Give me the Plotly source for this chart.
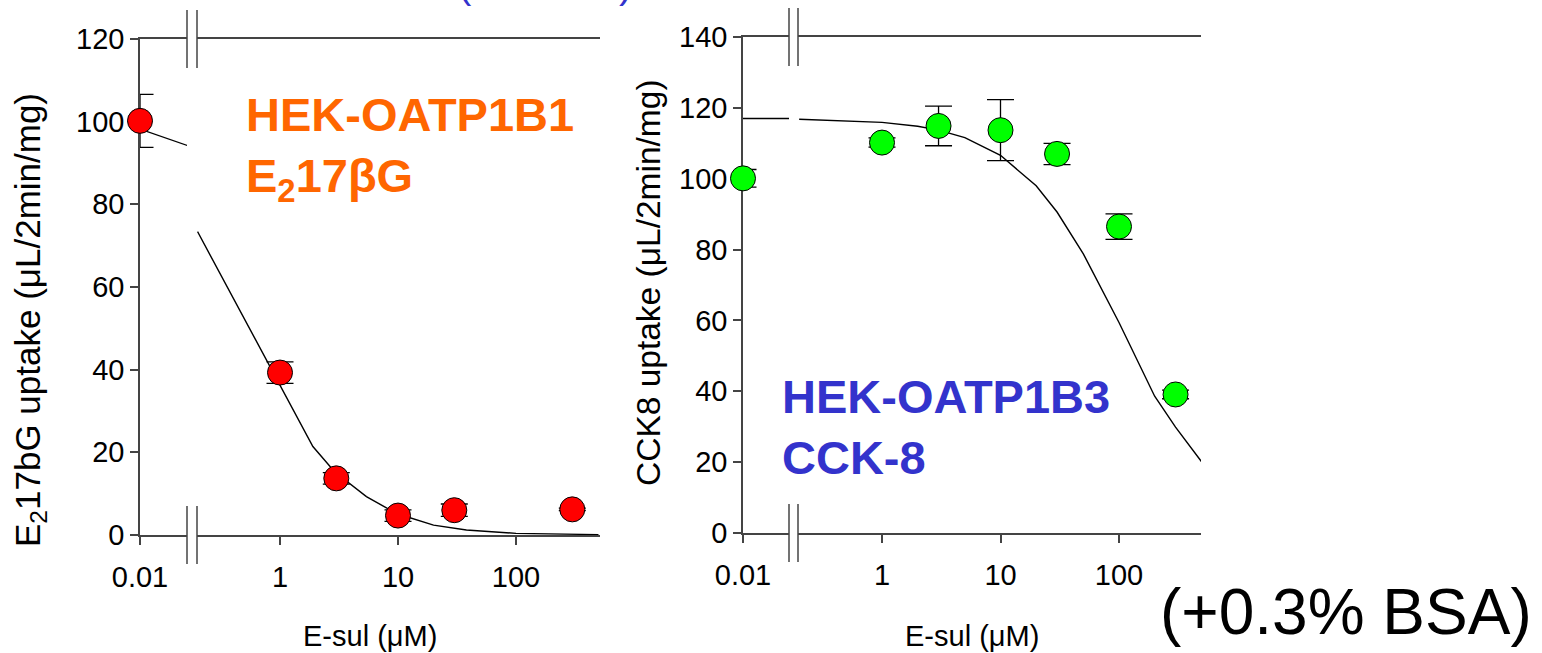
import plotly.graph_objects as go

# ---------------- data ----------------
left_x = [0.01, 1, 3, 10, 30, 300]
left_y = [100.2, 39.3, 13.7, 4.7, 6.0, 6.2]
left_err = [6.4, 2.6, 1.4, 1.4, 1.5, 0.3]
left_fit_x = [0.01, 0.026, 0.2, 0.557, 1, 1.9, 2.9, 5.4, 9.7, 20, 38, 100, 500]
left_fit_y = [98.2, 94.1, 73.4, 49.6, 36.3, 21.4, 15.3, 9.3, 5.2, 2.4, 1.2, 0.4, 0.1]

right_x = [0.01, 1, 3, 10, 30, 100, 300]
right_y = [100.1, 110.2, 114.9, 113.7, 107.0, 86.5, 39.1]
right_err = [2.5, 1.3, 5.6, 8.6, 3.0, 3.6, 1.2]
right_fit_x = [0.01, 0.026, 0.2, 0.5, 1, 2, 3, 5, 10, 20, 30, 50, 100, 200, 300, 500]
right_fit_y = [117.0, 117.0, 116.8, 116.4, 115.9, 114.8, 113.7, 111.6, 106.6, 98.0,
               90.6, 78.8, 59.4, 38.6, 29.9, 20.0]

x_ticks_a = [0.01]
x_ticks_b = [1, 10, 100]
left_yticks = [0, 20, 40, 60, 80, 100, 120]
right_yticks = [0, 20, 40, 60, 80, 100, 120, 140]

x_title = "E-sul (μM)"
left_ytitle = "E<sub>2</sub>17bG uptake (μL/2min/mg)"
right_ytitle = "CCK8 uptake (μL/2min/mg)"
left_label = "HEK-OATP1B1<br>E<sub>2</sub>17βG"
right_label = "HEK-OATP1B3<br>CCK-8"
bsa_label = "(+0.3% BSA)"

# ---------------- layout geometry (pixels) ----------------
W, H = 1542, 653
FONT = "Arial, Liberation Sans, sans-serif"
AX = "#444444"
BREAK_VAL = 0.05
TICKFONT = dict(size=29, family=FONT, color="black")


def fx(p):
    return p / W


def fy(p):
    return 1 - p / H


panels = [
    dict(x0=140, brkA=187, brkB=197, x1=600, ytop=39, ybot=535, one=280, dec=118.0,
         ymax=120, yticks=left_yticks, xs=left_x, ys=left_y, es=left_err,
         fx_=left_fit_x, fy_=left_fit_y, color="#FF0000",
         ytitle=left_ytitle, ytx=30, yty=320, ytsize=35,
         label=left_label, lcol="#FF6600", lx=244, ly=86),
    dict(x0=743, brkA=789, brkB=798, x1=1201, ytop=37, ybot=533, one=882, dec=118.5,
         ymax=140, yticks=right_yticks, xs=right_x, ys=right_y, es=right_err,
         fx_=right_fit_x, fy_=right_fit_y, color="#00FF00",
         ytitle=right_ytitle, ytx=648, yty=283, ytsize=33.5,
         label=right_label, lcol="#3333CC", lx=780, ly=368),
]

fig = go.Figure()
layout = dict(template="none", width=W, height=H, margin=dict(l=0, r=0, t=0, b=0, pad=0),
              autosize=False,
              paper_bgcolor="white", plot_bgcolor="white", showlegend=False,
              font=dict(family=FONT, color="black"))
shapes = []
annotations = []

common_x = dict(type="log", showgrid=False, zeroline=False, showline=True, mirror=True,
                linecolor=AX, linewidth=1.5, ticks="outside", ticklen=8, tickwidth=1.5,
                tickcolor=AX, tickfont=TICKFONT, automargin=False, ticklabelstandoff=7,
                layer="below traces", fixedrange=True)

for i, p in enumerate(panels):
    xa = f"x{2*i+1 if i else ''}"
    xb = f"x{2*i+2}"
    ya = f"y{2*i+1 if i else ''}"
    xa_key = "xaxis" + (str(2 * i + 1) if i else "")
    xb_key = "xaxis" + str(2 * i + 2)
    ya_key = "yaxis" + (str(2 * i + 1) if i else "")
    yb_key = "yaxis" + str(2 * i + 2)

    ydom = [fy(p["ybot"]), fy(p["ytop"])]
    layout[xa_key] = dict(common_x, domain=[fx(p["x0"]), fx(p["brkA"])],
                          range=[-2, -2 + (p["brkA"] - p["x0"]) / p["dec"]],
                          tickvals=x_ticks_a, ticktext=[str(v) for v in x_ticks_a],
                          anchor=ya)
    layout[xb_key] = dict(common_x, domain=[fx(p["brkB"]), fx(p["x1"])],
                          range=[(p["brkB"] - p["one"]) / p["dec"],
                                 (p["x1"] - p["one"]) / p["dec"]],
                          tickvals=x_ticks_b, ticktext=[str(v) for v in x_ticks_b],
                          anchor=ya)
    layout[ya_key] = dict(domain=ydom, range=[0, p["ymax"]], tickvals=p["yticks"],
                          showgrid=False, zeroline=False, showline=True,
                          linecolor=AX, linewidth=1.5, ticks="outside", ticklen=8,
                          tickwidth=1.5, tickcolor=AX, anchor=xa, automargin=False,
                          tickfont=TICKFONT, layer="below traces", fixedrange=True)
    layout[yb_key] = dict(overlaying=ya, range=[0, p["ymax"]], side="right", anchor=xb,
                          showgrid=False, zeroline=False, showline=True, linecolor=AX,
                          linewidth=1.5, ticks="", showticklabels=False, automargin=False,
                          layer="below traces", fixedrange=True)

    # fitted curve, split across the axis break
    for seg_x, seg in ((xa, lambda v: v < BREAK_VAL), (xb, lambda v: v >= BREAK_VAL)):
        cx = [a for a in p["fx_"] if seg(a)]
        cy = [b for a, b in zip(p["fx_"], p["fy_"]) if seg(a)]
        fig.add_trace(go.Scatter(x=cx, y=cy, xaxis=seg_x, yaxis=ya, mode="lines",
                                 line=dict(color="black", width=1.4), hoverinfo="skip"))
    # data points
    for seg_x, seg in ((xa, lambda v: v < BREAK_VAL), (xb, lambda v: v >= BREAK_VAL)):
        idx = [k for k, a in enumerate(p["xs"]) if seg(a)]
        fig.add_trace(go.Scatter(
            x=[p["xs"][k] for k in idx], y=[p["ys"][k] for k in idx],
            xaxis=seg_x, yaxis=ya, mode="markers", cliponaxis=False,
            marker=dict(size=25, color=p["color"], line=dict(color="black", width=1)),
            error_y=dict(type="data", array=[p["es"][k] for k in idx], color="black",
                         thickness=1.3, width=13.5)))

    # axis-break marks
    for bx in (p["brkA"], p["brkB"]):
        for yy in (p["ybot"], p["ytop"]):
            shapes.append(dict(type="line", xref="paper", yref="paper",
                               x0=fx(bx), x1=fx(bx), y0=fy(yy + 29), y1=fy(yy - 29),
                               line=dict(color=AX, width=1.5)))

    # axis titles
    annotations.append(dict(text=x_title, xref="paper", yref="paper",
                            x=fx((p["x0"] + p["x1"]) / 2), y=fy(636), showarrow=False,
                            xanchor="center", yanchor="middle",
                            font=dict(size=29, family=FONT, color="black")))
    annotations.append(dict(text=p["ytitle"], xref="paper", yref="paper",
                            x=fx(p["ytx"]), y=fy(p["yty"]), textangle=-90,
                            showarrow=False, xanchor="center", yanchor="middle",
                            font=dict(size=p["ytsize"], family=FONT, color="black")))
    annotations.append(dict(text="<b>" + p["label"] + "</b>", xref="paper", yref="paper",
                            x=fx(p["lx"]), y=fy(p["ly"]), showarrow=False,
                            xanchor="left", yanchor="top", align="left",
                            font=dict(size=47, family=FONT, color=p["lcol"])))

annotations.append(dict(text=bsa_label, xref="paper", yref="paper", x=fx(1158),
                        y=fy(612), showarrow=False, xanchor="left", yanchor="middle",
                        font=dict(size=64, family=FONT, color="black")))
# cut-off blue heading remnants at the very top
for txt, px in (("(", 465), (")", 625)):
    annotations.append(dict(text=txt, xref="paper", yref="paper", x=fx(px), y=fy(8),
                            showarrow=False, xanchor="center", yanchor="bottom",
                            font=dict(size=40, family=FONT, color="#3333CC")))

layout["shapes"] = shapes
layout["annotations"] = annotations
fig.update_layout(**layout)
fig.write_html("out.html")
